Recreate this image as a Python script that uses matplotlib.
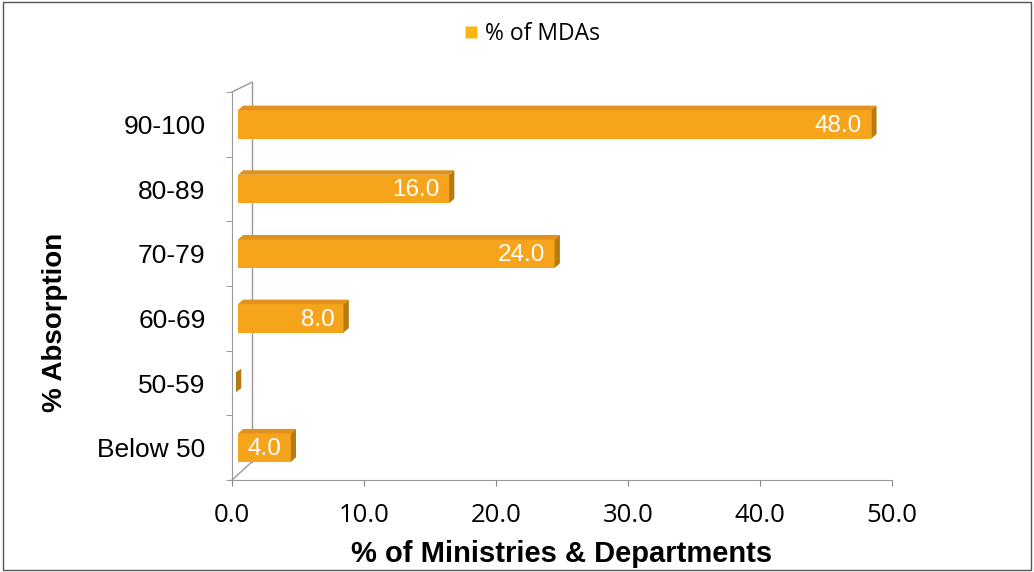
import matplotlib.pyplot as plt
from matplotlib.patches import Polygon, Rectangle
from matplotlib.lines import Line2D

categories = ['Below 50', '50-59', '60-69', '70-79', '80-89', '90-100']
pct_mdas = [4.0, 0.0, 8.0, 24.0, 16.0, 48.0]

front = '#F5A41B'
side = '#B57A10'
top = '#E0921C'
d = 0.45      # depth offset in x units
dy = 0.07     # depth offset in y units
h = 0.44

plt.rcParams['font.family'] = ['Liberation Sans', 'DejaVu Sans']

fig = plt.figure(figsize=(10.34, 5.72), dpi=100)
ax = fig.add_axes([0.2244, 0.1608, 0.638, 0.6783])

for i, v in enumerate(pct_mdas):
    y0 = i - h / 2
    if v > 0:
        ax.add_patch(Rectangle((d, y0), v, h, facecolor=front, edgecolor='none', zorder=2))
        ax.add_patch(Polygon([(d, y0 + h), (d + v, y0 + h), (d + v + 0.4, y0 + h + dy),
                              (d + 0.4, y0 + h + dy)], closed=True,
                             facecolor=top, edgecolor='none', zorder=2))
        ax.add_patch(Polygon([(d + v, y0), (d + v + 0.4, y0 + dy), (d + v + 0.4, y0 + h + dy),
                              (d + v, y0 + h)], closed=True,
                             facecolor=side, edgecolor='none', zorder=2))
        ax.text(d + v - 0.7, i - 0.02, '%.1f' % v, color='white', fontsize=17.5,
                ha='right', va='center', zorder=3)
    else:
        ax.add_patch(Polygon([(0.3, y0 + 0.08), (0.7, y0 + 0.14), (0.7, y0 + h),
                              (0.3, y0 + h - 0.05)], closed=True,
                             facecolor=side, edgecolor='none', zorder=2))

# back wall / floor edges of the 3D frame
ax.plot([1.5, 1.5], [-0.22, 5.65], color='#999999', lw=1, clip_on=False, zorder=1)
ax.plot([0, 1.5], [-0.5, -0.22], color='#999999', lw=1, clip_on=False, zorder=1)
ax.plot([0, 1.5], [5.5, 5.65], color='#999999', lw=1, clip_on=False, zorder=1)

ax.set_xlim(0, 50)
ax.set_ylim(-0.5, 5.5)
ax.set_xticks([0, 10, 20, 30, 40, 50])
ax.set_xticklabels(['%.1f' % t for t in [0, 10, 20, 30, 40, 50]],
                   fontsize=18.5, family='Open Sans')
ax.set_yticks(range(len(categories)))
ax.set_yticklabels(categories, fontsize=19)
ax.set_yticks([i - 0.5 for i in range(len(categories) + 1)], minor=True)
ax.tick_params(axis='y', which='major', length=0, pad=19)
ax.tick_params(axis='y', which='minor', length=4, color='#888888')
ax.tick_params(axis='x', length=4.5, color='#888888', pad=12)

for s in ['top', 'right']:
    ax.spines[s].set_visible(False)
ax.spines['left'].set_color('#999999')
ax.spines['bottom'].set_color('#999999')

ax.set_xlabel('% of Ministries & Departments', fontsize=21, fontweight='bold', labelpad=9)
ax.set_ylabel('% Absorption', fontsize=20, fontweight='bold')
ax.yaxis.set_label_coords(-0.248, 0.407)

handle = Line2D([], [], marker='s', linestyle='none', markersize=9,
                markerfacecolor='#FDB515', markeredgecolor='none')
fig.legend([handle], ['% of MDAs'], loc='center', bbox_to_anchor=(0.512, 0.94),
           frameon=False, prop={'family': 'Open Sans', 'size': 16.5},
           handletextpad=0.1, handlelength=1.0)

fig.add_artist(Rectangle((0.003, 0.003), 0.994, 0.994, transform=fig.transFigure,
                         fill=False, edgecolor='#555555', lw=1))

fig.savefig('out.png', dpi=100)
